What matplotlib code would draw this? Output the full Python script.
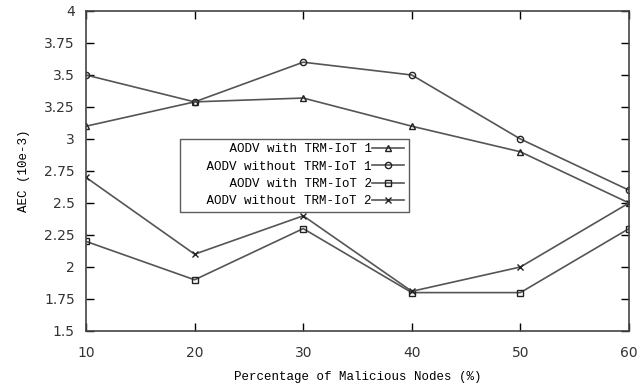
import matplotlib
matplotlib.use('Agg')
import matplotlib.pyplot as plt

x = [10, 20, 30, 40, 50, 60]
with_trm_1 = [3.1, 3.29, 3.32, 3.1, 2.9, 2.5]
without_trm_1 = [3.5, 3.29, 3.6, 3.5, 3.0, 2.6]
with_trm_2 = [2.2, 1.9, 2.3, 1.8, 1.8, 2.3]
without_trm_2 = [2.7, 2.1, 2.4, 1.81, 2.0, 2.5]
yticks = [1.5, 1.75, 2, 2.25, 2.5, 2.75, 3, 3.25, 3.5, 3.75, 4]
ytick_labels = ['1.5', '1.75', '2', '2.25', '2.5', '2.75', '3', '3.25', '3.5', '3.75', '4']

fig = plt.figure(figsize=(6.37, 3.88), dpi=100)
ax = fig.add_axes([86/637, 1 - 331/388, 543/637, 320/388])

col = '#555555'
ax.plot(x, with_trm_1, color=col, lw=1.2, marker='^', ms=4, mfc='none', mec='#222222',
        label='   AODV with TRM-IoT 1')
ax.plot(x, without_trm_1, color=col, lw=1.2, marker='o', ms=4.5, mfc='none', mec='#222222',
        label='   AODV without TRM-IoT 1')
ax.plot(x, with_trm_2, color=col, lw=1.2, marker='s', ms=4.5, mfc='none', mec='#222222',
        label='   AODV with TRM-IoT 2')
ax.plot(x, without_trm_2, color=col, lw=1.2, marker='x', ms=5, mec='#222222',
        label='   AODV without TRM-IoT 2')

ax.set_xlim(10, 60)
ax.set_ylim(1.5, 4)
ax.set_xticks(x)
ax.set_yticks(yticks)
ax.set_yticklabels(ytick_labels)
ax.tick_params(direction='in', top=True, right=True, length=6, width=1,
               labelsize=10, labelcolor='#333333')
ax.tick_params(axis='x', pad=11)
ax.tick_params(axis='y', pad=8)
for s in ax.spines.values():
    s.set_color('#444444')
    s.set_linewidth(1.2)

mono = 'Liberation Mono'
ax.set_xlabel('Percentage of Malicious Nodes (%)', fontsize=9, family=mono, labelpad=8)
ax.set_ylabel('AEC (10e-3)', fontsize=9, family=mono, labelpad=10)

leg = ax.legend(loc='upper left', bbox_to_anchor=(94/543, 1 - 128/320), markerfirst=False,
                prop={'family': mono, 'size': 9}, frameon=True, fancybox=False,
                borderpad=0.35, labelspacing=0.42, handlelength=2.6, handletextpad=0.0,
                borderaxespad=0)
leg.get_frame().set_edgecolor('#333333')
leg.get_frame().set_linewidth(1)
for t in leg.get_texts():
    t.set_ha('right')

fig.savefig('out.png', dpi=100)
